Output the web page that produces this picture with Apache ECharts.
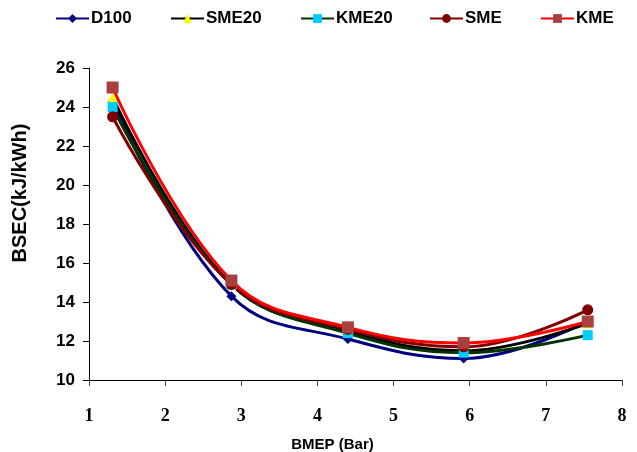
<!DOCTYPE html>
<html>
<head>
<meta charset="utf-8">
<script src="https://cdn.jsdelivr.net/npm/echarts@6/dist/echarts.min.js"></script>
<style>
  html, body { margin: 0; padding: 0; background: #fff; }
  #chart { width: 637px; height: 452px; }
</style>
</head>
<body>
<div id="chart"></div>
<script>
// BMEP load points (bar) and brake specific energy consumption (kJ/kWh)
const bmep = [1.31, 2.87, 4.40, 5.92, 7.55];
const d100 = [24.3, 14.3, 12.1, 11.1, 13.0];
const sme20 = [24.5, 14.9, 12.5, 11.5, 12.9];
const kme20 = [24.0, 14.9, 12.4, 11.4, 12.3];
const sme = [23.5, 14.9, 12.6, 11.7, 13.6];
const kme = [25.0, 15.1, 12.7, 11.9, 13.0];

const fuels = ['D100', 'SME20', 'KME20', 'SME', 'KME'];
const legendLeft = [50, 165, 295, 424, 535];

const xTicks = [1, 8, 1];     // min, max, step
const yTicks = [10, 26, 2];   // min, max, step

const sans = '"Liberation Sans", Arial, sans-serif';

function pairs(ys) {
  return ys.map((y, i) => [bmep[i], y]);
}

function line(name, ys, lineColor, markColor, symbol, size) {
  return {
    name: name,
    type: 'line',
    data: pairs(ys),
    smooth: 0.4,
    symbol: symbol,
    symbolSize: size,
    showSymbol: true,
    lineStyle: { color: lineColor, width: 3 },
    itemStyle: { color: markColor, borderWidth: 0 },
    emphasis: { disabled: true }
  };
}

// one legend block per fuel so each sits at its own spot along the top
const legends = fuels.map((f, i) => ({
  top: 5,
  left: legendLeft[i],
  itemWidth: 33,
  itemHeight: 11,
  itemGap: 4,
  textStyle: { fontFamily: sans, fontWeight: 'bold', fontSize: 17, color: '#000', padding: [0, 0, 0, -3] },
  data: [f]
}));

const chart = echarts.init(document.getElementById('chart'), null, { renderer: 'canvas' });
chart.setOption({
  animation: false,
  backgroundColor: '#ffffff',
  grid: { left: 89, right: 15, top: 68, bottom: 72, containLabel: false, outerBoundsMode: 'none' },
  legend: legends,
  xAxis: {
    type: 'value',
    min: xTicks[0], max: xTicks[1], interval: xTicks[2],
    name: 'BMEP (Bar)',
    nameLocation: 'middle',
    nameGap: 57,
    nameTextStyle: { fontFamily: sans, fontWeight: 'bold', fontSize: 15, color: '#000', padding: [0, 46, 0, 0] },
    axisLine: { lineStyle: { color: '#000', width: 1 } },
    axisTick: { show: true, length: 6, lineStyle: { color: '#444' } },
    axisLabel: { margin: 27, fontFamily: '"Liberation Serif", "Times New Roman", serif', fontWeight: 'bold', fontSize: 18, color: '#000' },
    splitLine: { show: false }
  },
  yAxis: {
    type: 'value',
    min: yTicks[0], max: yTicks[1], interval: yTicks[2],
    name: 'BSEC(kJ/kWh)',
    nameLocation: 'middle',
    nameGap: 59,
    nameTextStyle: { fontFamily: sans, fontWeight: 'bold', fontSize: 20, color: '#000', padding: [0, 0, 0, 62] },
    axisLine: { show: true, lineStyle: { color: '#000', width: 1 } },
    axisTick: { show: true, length: 6, lineStyle: { color: '#000' } },
    axisLabel: { margin: 14, fontFamily: sans, fontWeight: 'bold', fontSize: 17, color: '#000' },
    splitLine: { show: false }
  },
  series: [
    line('D100', d100, '#000080', '#000080', 'diamond', 10),
    line('SME20', sme20, '#000000', '#FFFF00', 'triangle', 10),
    line('KME20', kme20, '#003300', '#00CCFF', 'rect', 10),
    line('SME', sme, '#800000', '#800000', 'circle', 11),
    line('KME', kme, '#FF0000', '#A8403F', 'rect', 12)
  ]
});
</script>
</body>
</html>
